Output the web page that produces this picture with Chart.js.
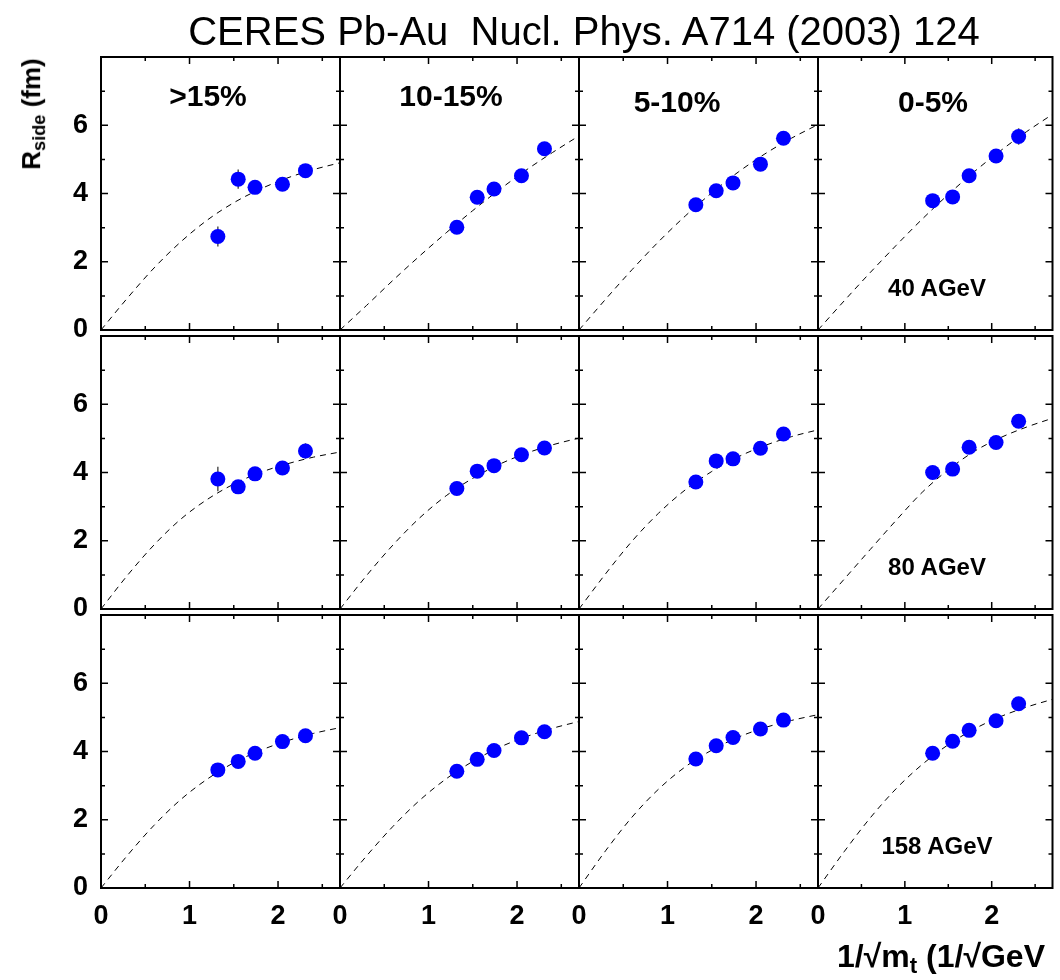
<!DOCTYPE html>
<html>
<head>
<meta charset="utf-8">
<script src="https://cdn.jsdelivr.net/npm/chart.js@4.4.1/dist/chart.umd.min.js"></script>
<style>
  html, body { margin: 0; padding: 0; background: #fff; overflow: hidden; }
  #page { position: relative; width: 1060px; height: 980px; font-family: "Liberation Sans", Arial, sans-serif; color: #000; }
  #page canvas { position: absolute; }
  .lbl { position: absolute; transform: translate(-50%, -50%); white-space: nowrap; line-height: 1; }
  .title { font-size: 40px; }
  .cent { font-size: 30px; font-weight: bold; }
  .energy { font-size: 24px; font-weight: bold; }
  .ytitle { font-size: 26px; font-weight: bold; transform: translate(-50%, -50%) rotate(-90deg); }
  .ytitle sub, .xtitle sub { font-size: 70%; vertical-align: -0.25em; }
  .xtitle { position: absolute; font-size: 32px; font-weight: bold; white-space: nowrap; line-height: 1; }
</style>
</head>
<body>
<div id="page"></div>
<script>
// panel labels
const centralities = ['>15%', '10-15%', '5-10%', '0-5%'];
const energies = ['40 AGeV', '80 AGeV', '158 AGeV'];

// x of the data points, 1/sqrt(mt)
const invSqrtMt = [1.32, 1.55, 1.74, 2.05, 2.31];

// Rside (fm), one row per centrality column
const rside40 = [
  [2.74, 4.42, 4.18, 4.27, 4.67],
  [3.01, 3.89, 4.13, 4.52, 5.31],
  [3.67, 4.08, 4.31, 4.86, 5.62],
  [3.79, 3.90, 4.52, 5.10, 5.67]
];
const rside80 = [
  [3.81, 3.58, 3.96, 4.13, 4.63],
  [3.53, 4.04, 4.20, 4.52, 4.72],
  [3.72, 4.34, 4.40, 4.71, 5.13],
  [4.00, 4.10, 4.74, 4.88, 5.50]
];
const rside158 = [
  [3.46, 3.71, 3.95, 4.29, 4.46],
  [3.42, 3.77, 4.03, 4.40, 4.58],
  [3.78, 4.17, 4.41, 4.66, 4.92],
  [3.95, 4.30, 4.62, 4.90, 5.40]
];

// error bars
const err40 = [
  [0.29, 0.28, 0.12, 0.12, 0.12],
  [0.12, 0.12, 0.12, 0.12, 0.12],
  [0.12, 0.12, 0.12, 0.12, 0.12],
  [0.12, 0.12, 0.12, 0.12, 0.24]
];
const err80 = [
  [0.36, 0.12, 0.12, 0.12, 0.23],
  [0.12, 0.12, 0.12, 0.12, 0.12],
  [0.12, 0.12, 0.12, 0.12, 0.12],
  [0.12, 0.12, 0.12, 0.12, 0.12]
];
const err158 = [
  [0.10, 0.10, 0.10, 0.10, 0.10],
  [0.10, 0.10, 0.10, 0.10, 0.10],
  [0.10, 0.10, 0.10, 0.10, 0.10],
  [0.10, 0.10, 0.10, 0.10, 0.10]
];

// dashed fit curves
const fitX = [0, 0.3, 0.6, 0.9, 1.2, 1.5, 1.8, 2.1, 2.4, 2.7];
const fit40 = [
  [0, 0.94, 1.82, 2.58, 3.22, 3.73, 4.13, 4.45, 4.70, 4.90],
  [0, 0.72, 1.46, 2.17, 2.85, 3.50, 4.11, 4.68, 5.20, 5.69],
  [0, 0.90, 1.77, 2.59, 3.34, 4.02, 4.63, 5.16, 5.62, 6.02],
  [0, 0.85, 1.68, 2.48, 3.25, 3.97, 4.64, 5.25, 5.81, 6.32]
];
const fit80 = [
  [0, 0.99, 1.88, 2.63, 3.21, 3.66, 4.00, 4.25, 4.45, 4.60],
  [0, 0.98, 1.88, 2.67, 3.32, 3.83, 4.24, 4.56, 4.81, 5.01],
  [0, 1.03, 1.99, 2.81, 3.49, 4.03, 4.46, 4.79, 5.05, 5.25],
  [0, 0.87, 1.74, 2.60, 3.42, 4.08, 4.62, 5.02, 5.33, 5.59]
];
const fit158 = [
  [0, 0.96, 1.84, 2.59, 3.19, 3.67, 4.03, 4.31, 4.53, 4.70],
  [0, 0.94, 1.81, 2.57, 3.20, 3.71, 4.12, 4.43, 4.68, 4.88],
  [0, 1.09, 2.08, 2.90, 3.55, 4.04, 4.42, 4.70, 4.91, 5.08],
  [0, 1.06, 2.05, 2.91, 3.62, 4.20, 4.66, 5.02, 5.30, 5.53]
];

const xTickLabels = [0, 1, 2];
const yTickLabels = [0, 2, 4, 6];

const rsideByRow = [rside40, rside80, rside158];
const errByRow = [err40, err80, err158];
const fitByRow = [fit40, fit80, fit158];

// layout of the grid (pixels)
const colEdges = [101, 340, 579, 818, 1057];
const rowTops = [57, 336, 615];
const panelH = 273;
const FONT = '"Liberation Sans", Arial, sans-serif';

const page = document.getElementById('page');

// frame, inward ticks and error bars
const framePlugin = {
  id: 'frame',
  beforeDatasetsDraw(chart, args, opts) {
    const { ctx, scales: { x, y } } = chart;
    const pts = chart.data.datasets[1].data;
    ctx.save();
    ctx.strokeStyle = '#555';
    ctx.lineWidth = 1.5;
    ctx.beginPath();
    pts.forEach((p, i) => {
      const px = x.getPixelForValue(p.x);
      ctx.moveTo(px, y.getPixelForValue(p.y - opts.err[i]));
      ctx.lineTo(px, y.getPixelForValue(p.y + opts.err[i]));
    });
    ctx.stroke();
    ctx.restore();
  },
  afterDraw(chart) {
    const { ctx, chartArea: a, scales: { x, y } } = chart;
    ctx.save();
    ctx.strokeStyle = '#000';
    ctx.lineWidth = 1.5;
    ctx.beginPath();
    x.ticks.forEach(t => {
      if (t.value <= x.min || t.value >= x.max) return;
      const px = x.getPixelForValue(t.value);
      const len = Number.isInteger(t.value) ? 7 : 4;
      ctx.moveTo(px, a.bottom); ctx.lineTo(px, a.bottom - len);
      ctx.moveTo(px, a.top); ctx.lineTo(px, a.top + len);
    });
    y.ticks.forEach(t => {
      if (t.value <= y.min || t.value >= y.max) return;
      const py = y.getPixelForValue(t.value);
      const len = t.value % 2 === 0 ? 7 : 4;
      ctx.moveTo(a.left, py); ctx.lineTo(a.left + len, py);
      ctx.moveTo(a.right, py); ctx.lineTo(a.right - len, py);
    });
    ctx.stroke();
    ctx.lineWidth = 2;
    ctx.strokeRect(a.left, a.top, a.right - a.left, a.bottom - a.top);
    ctx.restore();
  }
};

function addLabel(text, cls, x, y) {
  const d = document.createElement('div');
  d.className = 'lbl ' + cls;
  d.innerHTML = text;
  d.style.left = x + 'px';
  d.style.top = y + 'px';
  page.appendChild(d);
}

for (let r = 0; r < 3; r++) {
  for (let c = 0; c < 4; c++) {
    // room around the frame; the left column and bottom row keep it for tick labels
    const yAxisW = c === 0 ? 60 : 0;
    const xAxisH = r === 2 ? 50 : 0;
    const padL = c === 0 ? 0 : 20;
    const padR = c === 3 ? 3 : 20;
    const padT = 8;
    const padB = r === 2 ? 0 : 8;
    const w = colEdges[c + 1] - colEdges[c];

    const canvas = document.createElement('canvas');
    canvas.width = w + padL + padR + yAxisW;
    canvas.height = panelH + padT + padB + xAxisH;
    canvas.style.left = (colEdges[c] - padL - yAxisW) + 'px';
    canvas.style.top = (rowTops[r] - padT) + 'px';
    page.appendChild(canvas);

    const points = invSqrtMt.map((v, i) => ({ x: v, y: rsideByRow[r][c][i] }));
    const curve = fitX.map((v, i) => ({ x: v, y: fitByRow[r][c][i] }));

    new Chart(canvas, {
      type: 'scatter',
      data: {
        datasets: [
          {
            data: curve,
            showLine: true,
            borderColor: '#000',
            borderWidth: 1,
            borderDash: [6, 5],
            pointRadius: 0,
            cubicInterpolationMode: 'monotone',
            order: 2
          },
          {
            data: points,
            backgroundColor: '#0000ff',
            borderColor: '#0000ff',
            borderWidth: 0,
            pointRadius: 7.5,
            order: 1
          }
        ]
      },
      options: {
        responsive: false,
        animation: false,
        layout: { padding: { left: padL, right: padR, top: padT, bottom: padB } },
        plugins: {
          legend: { display: false },
          tooltip: { enabled: false },
          frame: { err: errByRow[r][c] }
        },
        scales: {
          x: {
            type: 'linear',
            min: 0,
            max: 2.7,
            afterFit: s => { s.height = xAxisH; s.paddingLeft = 0; s.paddingRight = 0; },
            grid: { display: false, drawTicks: false },
            border: { display: false },
            ticks: {
              display: r === 2,
              stepSize: 0.5,
              includeBounds: false,
              autoSkip: false,
              maxRotation: 0,
              padding: 12,
              color: '#000',
              font: { family: FONT, size: 27, weight: 'bold' },
              callback: v => xTickLabels.includes(v) ? String(v) : ''
            }
          },
          y: {
            type: 'linear',
            min: 0,
            max: 8,
            afterFit: s => { s.width = yAxisW; s.paddingTop = 0; s.paddingBottom = 0; },
            grid: { display: false, drawTicks: false },
            border: { display: false },
            ticks: {
              display: c === 0,
              stepSize: 1,
              includeBounds: false,
              autoSkip: false,
              padding: 13,
              color: '#000',
              font: { family: FONT, size: 27, weight: 'bold' },
              callback: v => yTickLabels.includes(v) ? String(v) : ''
            }
          }
        }
      },
      plugins: [framePlugin]
    });
  }
}

// texts
addLabel('CERES Pb-Au&nbsp; Nucl. Phys. A714 (2003) 124', 'title', 584, 31);
const centPos = [[208, 96], [451, 96], [677, 102], [933, 102]];
centralities.forEach((t, i) => addLabel(t, 'cent', centPos[i][0], centPos[i][1]));
energies.forEach((t, i) => addLabel(t, 'energy', 937, rowTops[i] + 231));
addLabel('R<sub>side</sub> (fm)', 'ytitle', 33, 114);

const xt = document.createElement('div');
xt.className = 'xtitle';
xt.innerHTML = '1/&radic;m<sub>t</sub> (1/&radic;GeV';
xt.style.left = '837px';
xt.style.top = '940px';
page.appendChild(xt);
</script>
</body>
</html>
